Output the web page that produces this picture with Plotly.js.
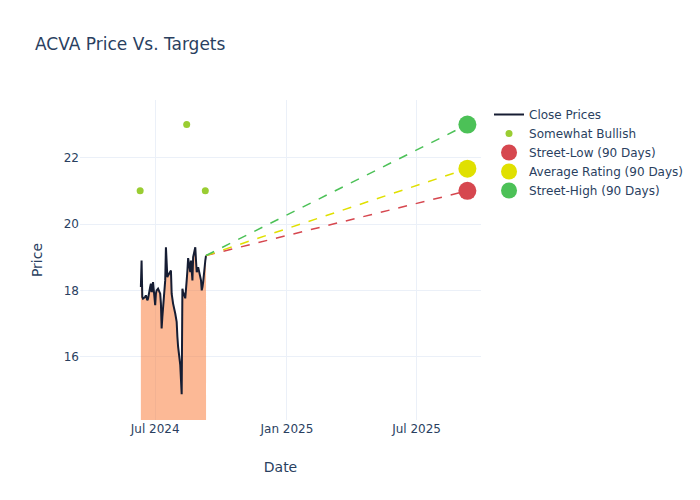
<!DOCTYPE html>
<html>
<head>
<meta charset="utf-8">
<script src="https://cdn.plot.ly/plotly-3.0.1.min.js"></script>
<style>html,body{margin:0;padding:0;background:#fff;}#chart{width:700px;height:500px;}</style>
</head>
<body>
<div id="chart"></div>
<script>
const priceDates = [
  '2024-06-11','2024-06-12','2024-06-13','2024-06-14','2024-06-17','2024-06-18','2024-06-20','2024-06-21',
  '2024-06-24','2024-06-25','2024-06-26','2024-06-27','2024-06-28','2024-07-01','2024-07-02','2024-07-03',
  '2024-07-05','2024-07-08','2024-07-09','2024-07-10','2024-07-11','2024-07-12','2024-07-15','2024-07-16',
  '2024-07-17','2024-07-18','2024-07-19','2024-07-22','2024-07-23','2024-07-24','2024-07-25','2024-07-26',
  '2024-07-29','2024-07-30','2024-07-31','2024-08-01','2024-08-02','2024-08-05','2024-08-06','2024-08-07',
  '2024-08-08','2024-08-09','2024-08-12','2024-08-13','2024-08-14','2024-08-15','2024-08-16','2024-08-19',
  '2024-08-20','2024-08-21','2024-08-22','2024-08-23','2024-08-26','2024-08-27','2024-08-28','2024-08-29',
  '2024-08-30','2024-09-03','2024-09-04','2024-09-05','2024-09-06','2024-09-09','2024-09-10'
];
const closePrices = [
  18.1, 18.9, 17.8, 17.75, 17.8, 17.85, 17.7, 17.75,
  18.1, 18.2, 17.95, 18.0, 18.25, 17.55, 17.9, 18.0,
  18.05, 17.9, 17.6, 16.85, 17.2, 17.55, 18.3, 19.3,
  18.9, 18.4, 18.45, 18.55, 18.6, 17.9, 17.65, 17.6,
  17.3, 17.15, 17.05, 16.6, 16.3, 15.75, 15.2, 14.87,
  18.05, 17.95, 17.76, 18.2, 18.3, 18.6, 18.97, 18.55,
  18.9, 18.6, 18.3, 19.0, 19.3, 18.9, 18.55, 18.6,
  18.7, 18.3, 18.0, 18.1, 18.25, 18.9, 19.05
];
const ratingDates = ['2024-06-10', '2024-08-14', '2024-09-09'];
const ratingValues = [21, 23, 21];
const targetDate = '2025-09-10';
const targetNames = ['Street-Low (90 Days)', 'Average Rating (90 Days)', 'Street-High (90 Days)'];
const targetValues = [21, 21.67, 23];
const targetColors = ['#d6474f', '#e0e000', '#4cc157'];

const lastDate = priceDates[priceDates.length - 1];
const lastPrice = closePrices[closePrices.length - 1];

const traces = [];
traces.push({
  x: priceDates, y: closePrices, type: 'scatter', mode: 'none',
  fill: 'tozeroy', fillcolor: 'rgba(249,115,45,0.5)', showlegend: false, hoverinfo: 'skip'
});
traces.push({
  x: priceDates, y: closePrices, type: 'scatter', mode: 'lines', name: 'Close Prices',
  line: {color: '#161d33', width: 2}
});
traces.push({
  x: ratingDates, y: ratingValues, type: 'scatter', mode: 'markers', name: 'Somewhat Bullish',
  marker: {color: '#9acd32', size: 7}
});
for (let i = 0; i < targetNames.length; i++) {
  traces.push({
    x: [lastDate, targetDate], y: [lastPrice, targetValues[i]], type: 'scatter', mode: 'lines',
    line: {color: targetColors[i], width: 1.5, dash: 'dash'}, showlegend: false, hoverinfo: 'skip'
  });
}
for (let i = 0; i < targetNames.length; i++) {
  traces.push({
    x: [targetDate], y: [targetValues[i]], type: 'scatter', mode: 'markers', name: targetNames[i],
    marker: {color: targetColors[i], size: 18}
  });
}

const layout = {
  width: 700, height: 500,
  paper_bgcolor: '#fff', plot_bgcolor: '#fff',
  font: {family: '"DejaVu Sans", verdana, arial, sans-serif', size: 12, color: '#2a3f5f'},
  title: {text: 'ACVA Price Vs. Targets', x: 0.05, xanchor: 'left', font: {size: 17, color: '#2a3f5f'}},
  margin: {l: 80, r: 80, t: 100, b: 80},
  xaxis: {
    title: {text: 'Date', font: {size: 14}},
    type: 'date', range: ['2024-03-18', '2025-09-29'],
    gridcolor: '#EBF0F8', zeroline: false, showline: false,
    tickvals: ['2024-07-01', '2025-01-01', '2025-07-01'],
    ticktext: ['Jul 2024', 'Jan 2025', 'Jul 2025']
  },
  yaxis: {
    title: {text: 'Price', font: {size: 14}},
    range: [14.09, 23.74],
    gridcolor: '#EBF0F8', zeroline: false, showline: false, dtick: 2
  },
  legend: {font: {size: 12}}
};

Plotly.newPlot('chart', traces, layout, {displayModeBar: false, staticPlot: true});
</script>
</body>
</html>
